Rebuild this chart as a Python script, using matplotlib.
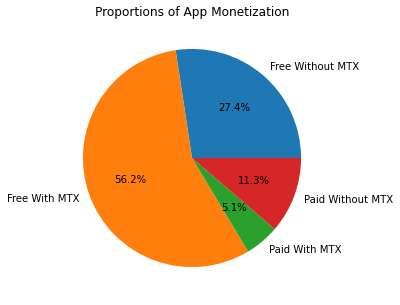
import matplotlib
matplotlib.use('Agg')
import matplotlib.pyplot as plt

labels = ['Free Without MTX', 'Free With MTX', 'Paid With MTX', 'Paid Without MTX']
shares = [27.4, 56.2, 5.1, 11.3]

fig = plt.figure(figsize=(4, 3.05), dpi=100)
ax = fig.add_subplot(1, 1, 1)
ax.pie(shares, labels=labels, autopct='%.1f%%', textprops={'fontsize': 7.3})
ax.set_title('Proportions of App Monetization', fontsize=8.7, pad=4.3)
ax.set_aspect('equal')
ax.set_xlim(-1.25, 1.25)
ax.set_ylim(-1.25, 1.25)
fig.subplots_adjust(left=0.139, right=0.821, top=0.929, bottom=0.035)
fig.savefig('out.png', dpi=100, facecolor='white')
